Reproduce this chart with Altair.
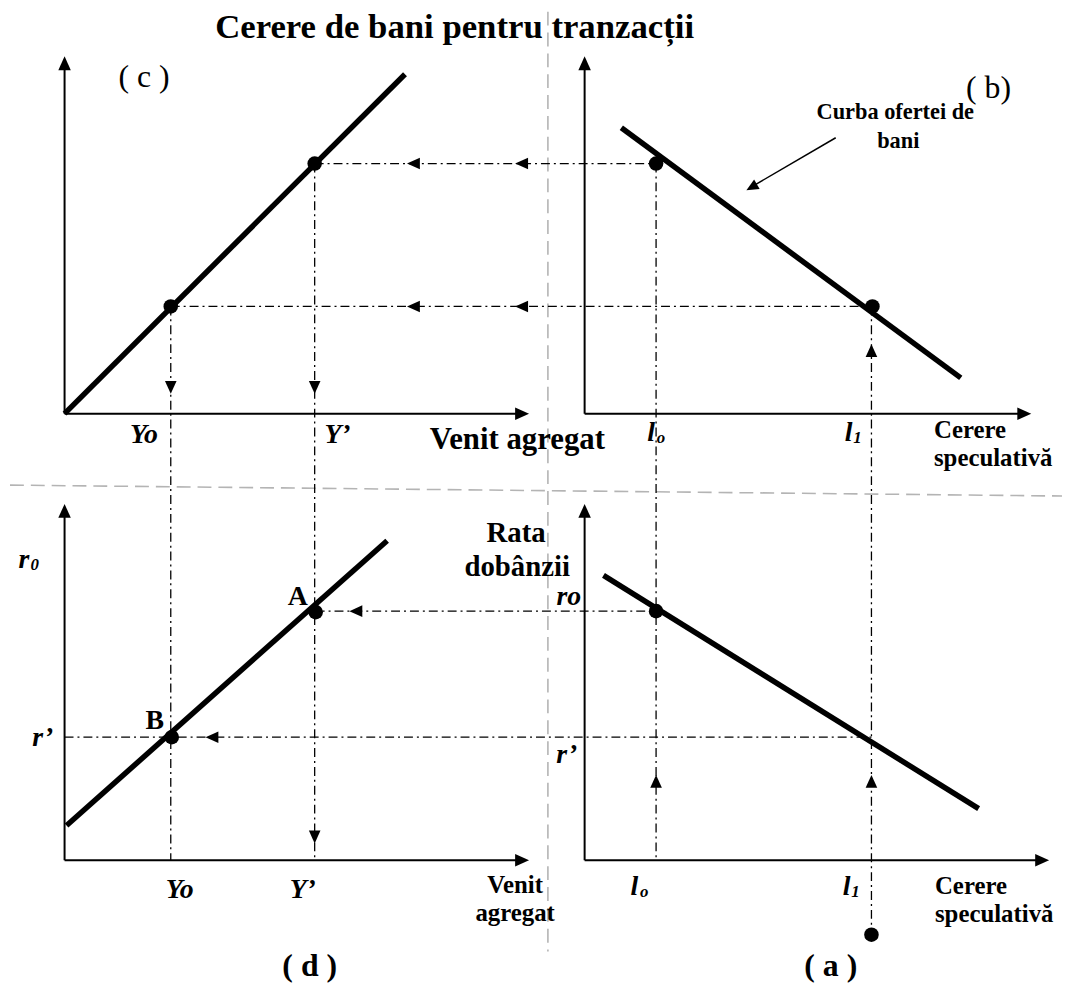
import altair as alt
import pandas as pd

# ---------------- data (diagram coordinates, in picture units) ----------------
# thick curves: (x1, y1, x2, y2)
curve_c = [65, 413, 408, 71]      # transaction demand (c)
curve_b = [626, 125, 968, 377]    # money supply curve (b)
curve_d = [67, 828, 390, 541]     # curve (d)
curve_a = [608, 576, 986, 811]    # speculative demand (a)

# axes: (x_origin, y_origin, x_tip, y_tip_of_vertical)
axes_c = [65, 413, 533, 53]
axes_b = [589, 413, 1039, 53]
axes_d = [65, 863, 533, 504]
axes_a = [589, 863, 1057, 504]

# key positions
Yo, Yp = 172, 317
l0, l1 = 661, 878
yc_low, yc_high = 305, 161
r0_y, rp_y = 612, 739

# dash-dot guide lines (x1, y1, x2, y2)
guides = [
    (Yp, yc_high, l0, yc_high),
    (Yo, yc_low, l1, yc_low),
    (Yp + 1, r0_y, l0, r0_y),
    (65, rp_y, l1, rp_y),
    (Yo, yc_low, Yo, 863),
    (Yp, yc_high, Yp, 863),
    (l0, yc_high, l0, 863),
    (l1, yc_low, l1, 938),
]

# small arrowheads on the guides: (tip_x, tip_y, direction_deg clockwise from up)
guide_arrows = [
    (410, 161, 270), (519, 161, 270), (410, 305, 270), (519, 305, 270),
    (172, 393, 180), (317, 393, 180),
    (878, 343, 0),
    (352, 612, 270), (207, 739, 270),
    (317, 846, 180),
    (661, 777, 0), (878, 777, 0),
]

# dots: (x, y)
dots = [(172, 305), (317, 161), (661, 161), (879, 305),
        (318, 613), (173, 739), (661, 612), (878, 938)]

# gray separators
separators = [(552, 8, 552, 955), (10, 485, 1070, 496)]

# pointer to "Curba ofertei de bani"
pointer_line = [(842, 135, 758, 184)]
pointer_head = [(752, 188, 239.6)]

# labels: (text, x, y)
title = [("Cerere de bani pentru tranzacții", 458, 24)]
panel_reg = [("( c )", 145, 74), ("( b)", 996, 85)]
panel_bold = [("( d )", 312, 970), ("( a )", 837, 970)]
big_bold = [("A", 300, 598), ("B", 156, 723)]
italic_labels = [("Yo", 145, 435), ("Y’", 340, 435), ("Yo", 181, 893), ("Y’", 305, 893),
                 ("r’", 43, 740), ("ro", 573, 598), ("r’", 571, 757),
                 ("l", 656, 433), ("l", 855, 433), ("l", 639, 890), ("l", 853, 890),
                 ("r", 24, 561)]
subscripts = [("o", 666, 438), ("1", 864, 438), ("o", 649, 895), ("1", 862, 895), ("0", 35, 566)]
axis_big = [("Venit agregat", 433, 440)]
axis_left = [("Cerere", 941, 430), ("speculativă", 941, 458),
             ("Cerere", 942, 889), ("speculativă", 942, 917)]
axis_center = [("Venit", 519, 888), ("agregat", 519, 916)]
rate_label = [("Rata", 520, 533), ("dobânzii", 521, 568)]
curve_note = [("Curba ofertei de", 902, 109), ("bani", 905, 138)]

# ---------------- build ----------------
FONT = "Liberation Serif"
xs = alt.Scale(domain=[8, 1070], nice=False, zero=False)
ys = alt.Scale(domain=[8, 989], nice=False, zero=False, reverse=True)


def segs(rows):
    return pd.DataFrame(rows, columns=["x", "y", "x2", "y2"])


def rule_layer(rows, **mark):
    return alt.Chart(segs(rows)).mark_rule(**mark).encode(
        x=alt.X("x:Q", scale=xs, axis=None),
        y=alt.Y("y:Q", scale=ys, axis=None),
        x2="x2:Q", y2="y2:Q")


def text_layer(rows, **mark):
    df = pd.DataFrame(rows, columns=["t", "x", "y"])
    return alt.Chart(df).mark_text(font=FONT, baseline="middle", color="black", **mark).encode(
        x=alt.X("x:Q", scale=xs, axis=None),
        y=alt.Y("y:Q", scale=ys, axis=None),
        text="t:N")


ARROW = "M0,0 L0.9,2 L-0.9,2 Z"


def arrow_layer(rows, size):
    df = pd.DataFrame(rows, columns=["x", "y", "ang"])
    return alt.Chart(df).mark_point(shape=ARROW, filled=True, size=size, color="black",
                                    opacity=1, strokeWidth=0).encode(
        x=alt.X("x:Q", scale=xs, axis=None),
        y=alt.Y("y:Q", scale=ys, axis=None),
        angle=alt.Angle("ang:Q", scale=None))


axis_rows = []
axis_tips = []
for ox, oy, tx, ty in [axes_c, axes_b, axes_d, axes_a]:
    axis_rows.append((ox, oy, tx - 6, oy))
    axis_rows.append((ox, oy, ox, ty + 6))
    axis_tips.append((tx, oy, 90))
    axis_tips.append((ox, ty, 0))

layers = [
    rule_layer(separators, color="#b4b4b4", strokeWidth=1.6, strokeDash=[14, 7]),
    rule_layer(guides, color="black", strokeWidth=1.3, strokeDash=[9, 4, 2, 4]),
    rule_layer(axis_rows, color="black", strokeWidth=2),
    rule_layer([curve_c, curve_b, curve_d, curve_a], color="black", strokeWidth=5.5),
    rule_layer(pointer_line, color="black", strokeWidth=1.5),
    arrow_layer(axis_tips, 196),
    arrow_layer(guide_arrows, 169),
    arrow_layer(pointer_head, 150),
    alt.Chart(pd.DataFrame(dots, columns=["x", "y"])).mark_circle(size=215, color="black", opacity=1).encode(
        x=alt.X("x:Q", scale=xs, axis=None), y=alt.Y("y:Q", scale=ys, axis=None)),
    text_layer(title, fontSize=35, fontWeight="bold", align="center"),
    text_layer(panel_reg, fontSize=32, align="center"),
    text_layer(panel_bold, fontSize=32, fontWeight="bold", align="center"),
    text_layer(big_bold, fontSize=28, fontWeight="bold", align="center"),
    text_layer(italic_labels, fontSize=28, fontWeight="bold", fontStyle="italic", align="center"),
    text_layer(subscripts, fontSize=17, fontWeight="bold", fontStyle="italic", align="center"),
    text_layer(axis_big, fontSize=31, fontWeight="bold", align="left"),
    text_layer(axis_left, fontSize=25, fontWeight="bold", align="left"),
    text_layer(axis_center, fontSize=25, fontWeight="bold", align="center"),
    text_layer(rate_label, fontSize=29, fontWeight="bold", align="center"),
    text_layer(curve_note, fontSize=22.5, fontWeight="bold", align="center"),
]

chart = alt.layer(*layers).properties(
    width=1062, height=981,
    autosize=alt.AutoSizeParams(type="none"),
    padding=0,
).configure(background="white", view=alt.ViewConfig(stroke=None))

chart.save("out.html", embed_options={"renderer": "svg", "actions": False})
